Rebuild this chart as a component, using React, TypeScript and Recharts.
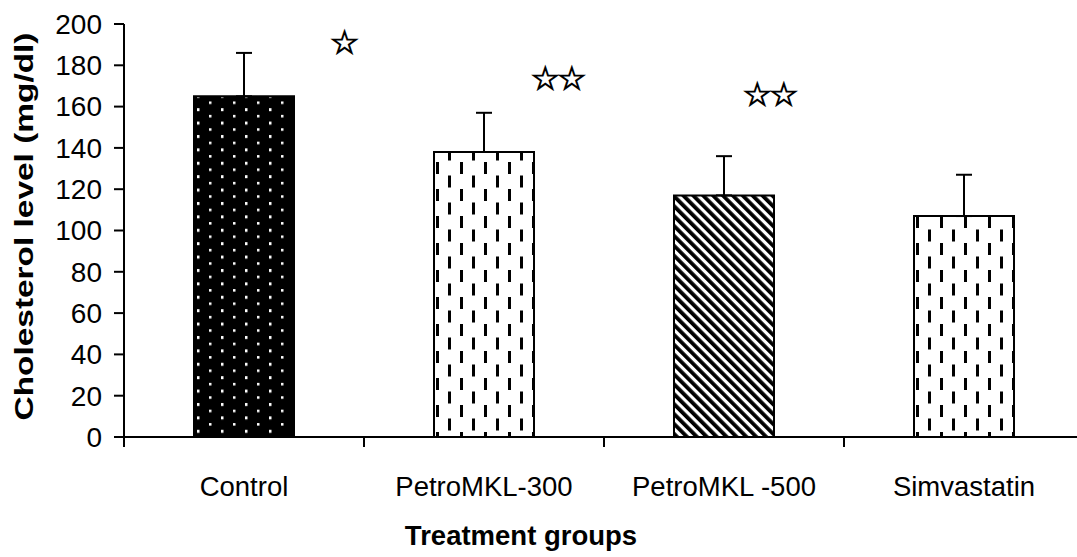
import React from 'react';
import { BarChart, Bar, XAxis, YAxis, Cell, ErrorBar, ReferenceDot, Label } from 'recharts';

// values
const groups = ['Control', 'PetroMKL-300', 'PetroMKL -500', 'Simvastatin'];
const meanLevels = [165, 138, 117, 107];
const errorUp = [21, 19, 19, 20];
const starMarks = ['☆', '☆☆', '☆☆'];
const starLevels = [191, 174, 166];
const yTicks = [0, 20, 40, 60, 80, 100, 120, 140, 160, 180, 200];

const chartData = groups.map((name, i) => ({
  name,
  level: meanLevels[i],
  err: [0, errorUp[i]],
}));

const fills = ['url(#dots)', 'url(#dashes)', 'url(#diag)', 'url(#dashes)'];
// horizontal nudge of each star group away from its bar centre
const starDx = [99, 73, 45];

const FONT = '"Liberation Sans", Arial, sans-serif';

const GroupTick = ({ x, y, payload, index }: any) => {
  const half = payload && typeof payload.offset === 'number' && payload.offset > 0 ? payload.offset : 120;
  const axisY = y - 39;
  return (
    <g>
      <line x1={x - half} x2={x - half} y1={axisY} y2={axisY + 10} stroke="#000" strokeWidth={2} />
      {index === groups.length - 1 && (
        <line x1={x + half} x2={x + half} y1={axisY} y2={axisY + 10} stroke="#000" strokeWidth={2} />
      )}
      <text x={x} y={y} dy="0.71em" textAnchor="middle" fontFamily={FONT} fontSize={27.5} fill="#000">
        {payload.value}
      </text>
    </g>
  );
};

const LevelTick = ({ x, y, payload }: any) => (
  <text x={x} y={y} dy="0.35em" textAnchor="end" fontFamily={FONT} fontSize={28} fill="#000">
    {payload.value}
  </text>
);

const YTitle = ({ viewBox }: any) => {
  const x = viewBox.x + 33;
  const y = viewBox.y + viewBox.height / 2 - 4;
  return (
    <text
      x={x}
      y={y}
      transform={`rotate(-90, ${x}, ${y})`}
      textAnchor="middle"
      fontFamily={FONT}
      fontWeight="bold"
      fontSize={26}
      fill="#000"
      textLength={388}
      lengthAdjust="spacingAndGlyphs"
    >
      Cholesterol level (mg/dl)
    </text>
  );
};

const StarLabel = (dx: number, text: string) => ({ viewBox }: any) => {
  const cx = viewBox.x + viewBox.width / 2 + dx;
  const cy = viewBox.y + viewBox.height / 2;
  return (
    <text
      x={cx}
      y={cy}
      dy="0.36em"
      textAnchor="middle"
      fontFamily='"DejaVu Sans", sans-serif'
      fontSize={33}
      letterSpacing={-3}
      fill="#fff"
      stroke="#000"
      strokeWidth={1}
    >
      {text}
    </text>
  );
};

export default function App() {
  return (
    <div style={{ position: 'fixed', left: 0, top: 0, width: 1077, height: 557, overflow: 'hidden', background: '#fff' }}>
      <BarChart width={1090} height={557} data={chartData} margin={{ top: 24, right: 6, bottom: 0, left: 0 }}>
        <defs>
          <pattern id="dots" patternUnits="userSpaceOnUse" width={24} height={13.4}>
            <rect x={0} y={0} width={24} height={13.4} fill="#000" />
            <rect x={5} y={1} width={2.5} height={3} fill="#fff" />
            <rect x={17} y={7.7} width={2.5} height={2.5} fill="#fff" />
          </pattern>
          <pattern id="dashes" patternUnits="userSpaceOnUse" width={24} height={27}>
            <rect x={0} y={0} width={24} height={27} fill="#fff" />
            <rect x={4} y={0} width={3} height={12} fill="#000" />
            <rect x={16} y={13.5} width={3} height={12} fill="#000" />
          </pattern>
          <pattern id="diag" patternUnits="userSpaceOnUse" width={7} height={7} patternTransform="rotate(-45)">
            <rect x={0} y={0} width={7} height={7} fill="#fff" />
            <rect x={0} y={0} width={3.8} height={7} fill="#000" />
          </pattern>
        </defs>
        <XAxis
          dataKey="name"
          height={120}
          tickLine={false}
          tickSize={10}
          tickMargin={29}
          interval={0}
          axisLine={{ stroke: '#000', strokeWidth: 2 }}
          tick={<GroupTick />}
        >
          <Label
            value="Treatment groups"
            position="insideBottom"
            offset={12}
            dx={-83}
            fontFamily={FONT}
            fontWeight="bold"
            fontSize={27.5}
            fill="#000"
          />
        </XAxis>
        <YAxis
          width={124}
          domain={[0, 200]}
          ticks={yTicks}
          interval={0}
          tickSize={10}
          tickMargin={12}
          axisLine={{ stroke: '#000', strokeWidth: 2 }}
          tickLine={{ stroke: '#000', strokeWidth: 2 }}
          tick={<LevelTick />}
        >
          <Label content={<YTitle />} />
        </YAxis>
        <Bar dataKey="level" barSize={100} stroke="#000" strokeWidth={2} isAnimationActive={false}>
          {chartData.map((d, i) => (
            <Cell key={d.name} fill={fills[i]} />
          ))}
          <ErrorBar dataKey="err" direction="y" width={8} stroke="#000" strokeWidth={2} isAnimationActive={false} />
        </Bar>
        {starMarks.map((s, i) => (
          <ReferenceDot
            key={groups[i]}
            x={groups[i]}
            y={starLevels[i]}
            r={1}
            fill="none"
            stroke="none"
            label={StarLabel(starDx[i], s)}
          />
        ))}
      </BarChart>
    </div>
  );
}
